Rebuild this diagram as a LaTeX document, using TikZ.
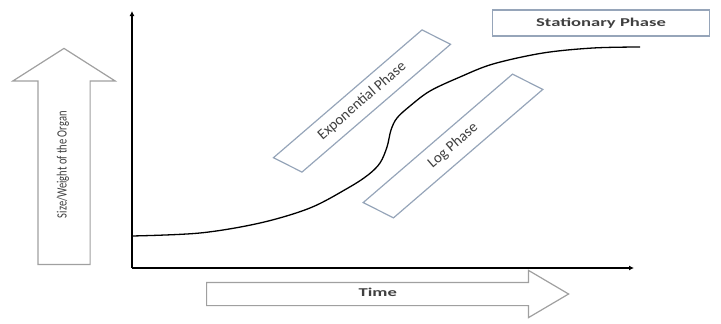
\documentclass[tikz,border=0pt]{standalone}
\usepackage{fontspec}
\usepackage{graphicx}
\setmainfont{Carlito}
\usetikzlibrary{shapes.arrows,arrows.meta}
\definecolor{boxline}{RGB}{150,165,185}
\definecolor{arrowline}{RGB}{160,160,160}
\definecolor{labeltext}{RGB}{64,64,64}
\tikzset{
  block arrow/.style={
    single arrow,
    draw=arrowline,
    fill=white,
    line width=1.2pt,
    inner xsep=0pt,
    inner ysep=#1,
    text height=8pt,
    text depth=3pt,
    text=labeltext,
    single arrow head indent=0pt,
  },
  block arrow/.default=5.5pt,
  phase box/.style={
    rectangle,
    draw=boxline,
    line width=1.2pt,
    minimum width=#1,
    minimum height=32pt,
    inner sep=0pt,
  },
  phase box/.default=196pt,
  phase label/.style={
    text=labeltext,
    inner sep=0pt,
    rotate=40.8,
    font=\fontsize{15}{15}\selectfont,
  },
  tilted/.style={cm={0.758,0.652,-0.89,0.45,(0,0)}},
  axis/.style={line width=1.7pt, -{Latex[length=5pt,width=5pt]}},
  growth/.style={line width=1.3pt},
}
\newcommand{\wide}[1]{\scalebox{1.55}[1]{#1}}

\begin{document}
\begin{tikzpicture}[x=1pt,y=-1pt]
\useasboundingbox (0,0) rectangle (721,324);
\coordinate (O) at (132,268);
\coordinate (ytop) at (132,11);
\coordinate (xend) at (634,268);
\draw[axis] (O) -- (ytop);
\draw[axis] (O) -- (xend);
\draw[growth] plot[smooth,tension=0.55] coordinates {
  (132,236) (200,233) (260,223) (310,208) (348,188) (368,175) (380,163)
  (387,147) (391,130) (397,118) (410,106) (430,91) (460,77) (493,64)
  (543,53) (593,48) (640,47)};
\node[block arrow=20pt, rotate=90, anchor=tail, minimum height=216pt,
  minimum width=101pt, single arrow head extend=25pt, single arrow tip angle=115,
  font=\fontsize{10.5}{11}\selectfont] (size) at (64,265)
  {\scalebox{1}[1.35]{Size/Weight of the Organ}};
\node[block arrow, anchor=tail, minimum height=362pt, minimum width=46pt,
  single arrow head extend=12pt, single arrow tip angle=61,
  font=\fontsize{12}{12}\selectfont\bfseries] (time) at (206,294) {\wide{Time}};
\node[phase box=217pt, minimum height=26pt, text=labeltext,
  font=\fontsize{12}{12}\selectfont\bfseries] (stationary) at (601,23) {\wide{Stationary Phase}};
\node[phase box, tilted] (exponential) at (362,101) {};
\node[phase label] (exponential label) at (exponential.center) {Exponential Phase};
\node[phase box=197pt, minimum height=34pt, tilted] (log) at (453,146) {};
\node[phase label] (log label) at (log.center) {Log Phase};
\end{tikzpicture}
\end{document}
